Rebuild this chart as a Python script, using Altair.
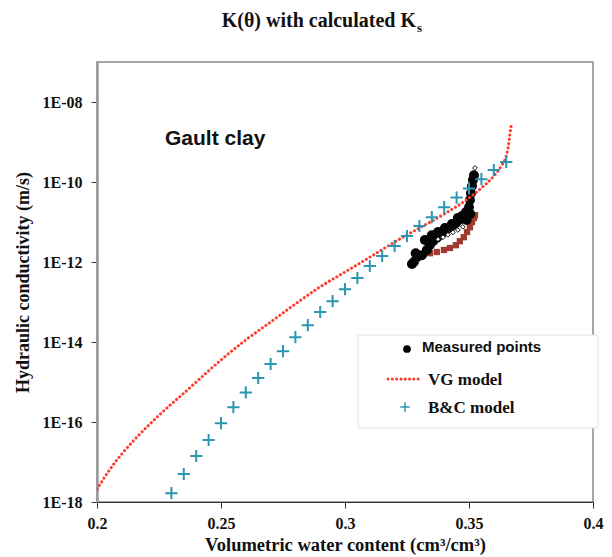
import altair as alt
import pandas as pd

# ---- data (theta in cm3/cm3, log10 of K in m/s) ----
bc_theta = [0.230, 0.235, 0.240, 0.245, 0.250, 0.255, 0.260, 0.265, 0.270, 0.275,
            0.280, 0.285, 0.290, 0.295, 0.300, 0.305, 0.310, 0.315, 0.320, 0.325,
            0.330, 0.335, 0.340, 0.345, 0.350, 0.355, 0.360, 0.365]
bc_logK = [-17.78, -17.30, -16.85, -16.45, -16.03, -15.63, -15.26, -14.90, -14.55, -14.23,
           -13.88, -13.58, -13.25, -12.98, -12.68, -12.40, -12.10, -11.85, -11.60, -11.35,
           -11.10, -10.88, -10.63, -10.39, -10.16, -9.93, -9.70, -9.50]

vg_theta = [0.200, 0.205, 0.210, 0.215, 0.220, 0.225, 0.230, 0.235, 0.240, 0.245,
            0.250, 0.260, 0.270, 0.280, 0.290, 0.300, 0.310, 0.320, 0.330, 0.340,
            0.350, 0.355, 0.360, 0.363, 0.365, 0.366, 0.3665, 0.367]
vg_logK = [-17.68, -17.20, -16.80, -16.45, -16.13, -15.83, -15.55, -15.28, -15.00, -14.72,
           -14.45, -13.95, -13.50, -13.05, -12.62, -12.25, -11.88, -11.50, -11.15, -10.80,
           -10.40, -10.15, -9.85, -9.60, -9.35, -9.05, -8.80, -8.60]

meas_theta = [0.3270, 0.3278, 0.3290, 0.3310, 0.3330, 0.3342, 0.3355, 0.3370, 0.3383, 0.3399,
              0.3411, 0.3431, 0.3447, 0.3455, 0.3460, 0.3472, 0.3488, 0.3500, 0.3504, 0.3508,
              0.3512, 0.3516, 0.3520,
              0.3285, 0.3322, 0.3350, 0.3375, 0.3403, 0.3431, 0.3490, 0.3505]
meas_logK = [-12.05, -12.00, -11.88, -11.83, -11.70, -11.58, -11.48, -11.40, -11.33, -11.25,
             -11.18, -11.10, -11.03, -10.90, -10.95, -10.85, -10.75, -10.63, -10.45, -10.28,
             -10.10, -9.95, -9.83,
             -11.78, -11.45, -11.33, -11.25, -11.15, -11.05, -10.95, -10.80]

sq_theta = [0.3342, 0.3370, 0.3399, 0.3423, 0.3447, 0.3463, 0.3479, 0.3492, 0.3504, 0.3512,
            0.3520, 0.3524]
sq_logK = [-11.78, -11.75, -11.70, -11.65, -11.58, -11.48, -11.38, -11.25, -11.13, -11.00,
           -10.90, -10.83]

dia_theta = [0.3375, 0.3395, 0.3415, 0.3435, 0.3455, 0.3475, 0.3524]
dia_logK = [-11.43, -11.38, -11.32, -11.26, -11.20, -11.12, -9.65]

y_ticks = [1e-18, 1e-16, 1e-14, 1e-12, 1e-10, 1e-08]
x_ticks = [0.2, 0.25, 0.3, 0.35, 0.4]


def frame(th, lk):
    return pd.DataFrame({"theta": th, "K": [10 ** v for v in lk]})


W, H = 496, 440
SERIF = "Liberation Serif"
SANS = "Liberation Sans"

X = alt.X("theta:Q",
          scale=alt.Scale(domain=[0.2, 0.4], nice=False, zero=False),
          axis=alt.Axis(values=x_ticks, format="~g", grid=False,
                        title="Volumetric water content (cm³/cm³)",
                        labelFont=SERIF, labelFontWeight="bold", labelFontSize=16,
                        labelColor="#111", labelPadding=7, tickSize=6,
                        tickColor="#333", domainColor="#333", domainWidth=1.2,
                        titleFont=SERIF, titleFontWeight="bold", titleFontSize=18.5,
                        titleColor="#111", titlePadding=4, labelFlush=False))
Y = alt.Y("K:Q",
          scale=alt.Scale(type="log", domain=[1e-18, 1e-7], nice=False),
          axis=alt.Axis(values=y_ticks, grid=False,
                        labelExpr="'1E-' + format(round(-log(datum.value)/LN10), '02d')",
                        title="Hydraulic conductivity (m/s)",
                        labelFont=SERIF, labelFontWeight="bold", labelFontSize=16,
                        labelColor="#111", labelPadding=9, tickSize=6,
                        tickColor="#333", domainColor="#9a9a9a", domainWidth=2.5,
                        titleFont=SERIF, titleFontWeight="bold", titleFontSize=18,
                        titleColor="#111", titlePadding=10))

squares = alt.Chart(frame(sq_theta, sq_logK)).mark_point(
    shape="square", filled=True, color="#9e3a30", size=40, opacity=1
).encode(x=X, y=Y)

circles = alt.Chart(frame(meas_theta, meas_logK)).mark_point(
    shape="circle", filled=True, color="#050505", size=100, opacity=1
).encode(x=X, y=Y)

diamonds = alt.Chart(frame(dia_theta, dia_logK)).mark_point(
    shape="diamond", filled=True, fill="white", stroke="#111", size=22,
    strokeWidth=1, opacity=1
).encode(x=X, y=Y)

vg = alt.Chart(frame(vg_theta, vg_logK)).mark_line(
    color="#ff3b2e", strokeWidth=3, strokeDash=[0.1, 4.2], strokeCap="round",
    interpolate="monotone", clip=True
).encode(x=X, y=Y)

PLUS = "M-1,0L1,0M0,-1L0,1"
bc = alt.Chart(frame(bc_theta, bc_logK)).mark_point(
    shape=PLUS, filled=False, color="#2b97b0", size=150, strokeWidth=2, opacity=1
).encode(x=X, y=Y)

one = pd.DataFrame({"k": [0]})

# annotation and hand-drawn legend (pixel positions inside the plot area)
gault = alt.Chart(one).mark_text(
    text="Gault clay", font=SANS, fontWeight="bold", fontSize=21, align="left",
    baseline="alphabetic", color="#111"
).encode(x=alt.value(68), y=alt.value(83))

title_main = alt.Chart(one).mark_text(
    text="K(θ) with calculated K", font=SERIF, fontWeight="bold", fontSize=20,
    align="right", baseline="alphabetic", color="#111"
).encode(x=alt.value(319), y=alt.value(-35))
title_sub = alt.Chart(one).mark_text(
    text="s", font=SERIF, fontWeight="bold", fontSize=13,
    align="left", baseline="alphabetic", color="#111"
).encode(x=alt.value(320), y=alt.value(-30))

leg_box = alt.Chart(one).mark_rect(
    fill="white", stroke="#e2e2e2", strokeWidth=1
).encode(x=alt.value(261), x2=alt.value(501), y=alt.value(273), y2=alt.value(366))

leg_dot = alt.Chart(one).mark_point(
    shape="circle", filled=True, color="#050505", size=60, opacity=1
).encode(x=alt.value(310), y=alt.value(287))
leg_t1 = alt.Chart(one).mark_text(
    text="Measured points", font=SANS, fontWeight="bold", fontSize=15, align="left",
    baseline="alphabetic", color="#111"
).encode(x=alt.value(325), y=alt.value(290))

leg_line = alt.Chart(one).mark_rule(
    color="#ff3b2e", strokeWidth=3, strokeDash=[0.1, 4.2], strokeCap="round"
).encode(x=alt.value(291), x2=alt.value(325), y=alt.value(317))
leg_t2 = alt.Chart(one).mark_text(
    text="VG model", font=SERIF, fontWeight="bold", fontSize=17, align="left",
    baseline="alphabetic", color="#111"
).encode(x=alt.value(331), y=alt.value(323))

leg_plus = alt.Chart(one).mark_point(
    shape=PLUS, filled=False, color="#2b97b0", size=90, strokeWidth=1.5, opacity=1
).encode(x=alt.value(308), y=alt.value(345))
leg_t3 = alt.Chart(one).mark_text(
    text="B&C model", font=SERIF, fontWeight="bold", fontSize=17, align="left",
    baseline="alphabetic", color="#111"
).encode(x=alt.value(331), y=alt.value(351))

chart = alt.layer(
    squares, circles, diamonds, vg, bc,
    gault, title_main, title_sub,
    leg_box, leg_dot, leg_t1, leg_line, leg_t2, leg_plus, leg_t3
).properties(
    width=W, height=H,
    autosize=alt.AutoSizeParams(type="none"),
    padding={"left": 89, "top": 54, "right": 11, "bottom": 53},
    background="white"
).configure_view(
    stroke="#8a8a8a", strokeWidth=1.5
)

chart.save("out.html", embed_options={"renderer": "svg", "actions": False})
